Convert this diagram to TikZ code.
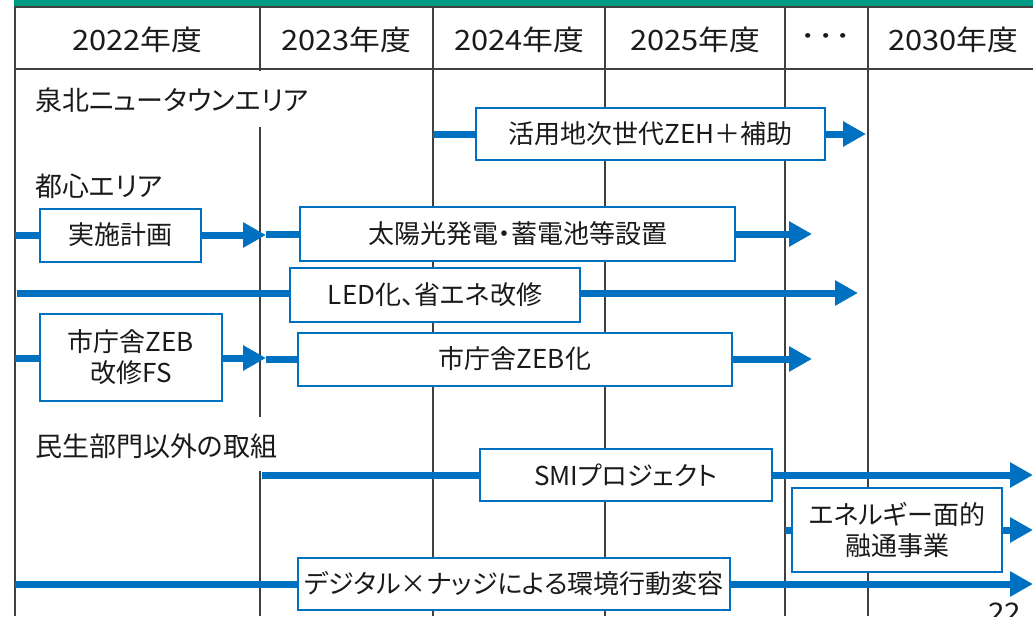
\documentclass[tikz,border=0pt]{standalone}
\usepackage{fontspec}
\setmainfont{Noto Sans CJK JP}[RawFeature=+palt]
\newfontfamily\hdrfont{Noto Sans CJK JP}[FakeStretch=1.1]
\usetikzlibrary{arrows.meta,backgrounds}
\definecolor{teal1}{HTML}{009A84}
\definecolor{blu}{HTML}{0070C0}
\definecolor{gridc}{HTML}{404040}
\definecolor{txt}{HTML}{1A1A1A}
\begin{document}
\begin{tikzpicture}[x=1pt,y=-1pt,
  gridline/.style={draw=gridc,line width=1.2pt},
  box/.style={draw=blu,line width=2pt,fill=white,inner sep=0pt,font=\fontsize{26}{31}\selectfont,text=txt,align=center},
  flow/.style={draw=blu,line width=7pt},
  flowarrow/.style={flow,-{Triangle[length=23pt,width=24pt]}},
  hdr/.style={font=\hdrfont\fontsize{28}{32}\selectfont,text=txt},
  lbl/.style={font=\fontsize{27}{31}\selectfont,text=txt,anchor=west,inner sep=0pt}]
\useasboundingbox (0,0) rectangle (1033,616);
\clip (0,0) rectangle (1033,616);

% header texts
\node[hdr] (h1) at (137,40) {2022年度};
\node[hdr] (h2) at (346,40) {2023年度};
\node[hdr] (h3) at (519,40) {2024年度};
\node[hdr] (h4) at (695,40) {2025年度};
\node[hdr] (h5) at (826,40) {･\hspace{2pt}･\hspace{2pt}･};
\node[hdr] (h6) at (953,40) {2030年度};

% section labels
\node[lbl] (l1) at (35,100) {泉北ニュータウンエリア};
\node[lbl] (l2) at (35,186) {都心エリア};
\node[lbl] (l3) at (35,446) {民生部門以外の取組};

% boxes
\node[box,minimum width=349pt,minimum height=52pt] (b1) at (650.5,134) {活用地次世代ZEH＋補助};
\node[box,minimum width=161pt,minimum height=53pt] (b2) at (120.5,235) {実施計画};
\node[box,minimum width=435pt,minimum height=54pt] (b3) at (517.5,234) {太陽光発電・蓄電池等設置};
\node[box,minimum width=290pt,minimum height=54pt] (b4) at (435,295) {LED化、省エネ改修};
\node[box,minimum width=182pt,minimum height=87pt] (b5) at (131,357) {市庁舎ZEB\\改修FS};
\node[box,minimum width=434pt,minimum height=53pt] (b6) at (515,359) {市庁舎ZEB化};
\node[box,minimum width=292pt,minimum height=52pt] (b7) at (626,475) {SMIプロジェクト};
\node[box,minimum width=210pt,minimum height=84pt] (b8) at (897,530) {エネルギー面的\\融通事業};
\node[box,minimum width=432pt,minimum height=52pt] (b9) at (514,584) {デジタル×ナッジによる環境行動変容};

\node[font=\hdrfont\fontsize{27}{31}\selectfont,text=txt,anchor=base west,inner sep=0pt] (pg) at (988,622) {22};

% free ends
\coordinate (s1) at (433,134);  \coordinate (t1) at (866,134);
\coordinate (s2) at (15,235);   \coordinate (t2) at (266,235);
\coordinate (s3) at (266,234);  \coordinate (t3) at (812,234);
\coordinate (s4) at (17,293);   \coordinate (t4) at (858,293);
\coordinate (s5) at (15,358);   \coordinate (t5) at (266,358);
\coordinate (s6) at (266,359);  \coordinate (t6) at (812,359);
\coordinate (s7) at (262,475);  \coordinate (t7) at (1033,475);
\coordinate (s8) at (785,530);  \coordinate (t8) at (1033,530);
\coordinate (s9) at (15,584);   \coordinate (t9) at (1033,584);

\begin{scope}[on background layer]
  \fill[teal1] (14,0) rectangle (1033,6.5);
  \draw[gridline] (14,7) -- (1033,7);
  \draw[gridline] (15,69) -- (1033,69);
  \draw[gridline] (15,7) -- (15,616);
  \draw[gridline] (260,7) -- (260,71);
  \draw[gridline] (260,127) -- (260,417);
  \draw[gridline] (260,471) -- (260,616);
  \draw[gridline] (433,7) -- (433,616);
  \draw[gridline] (605,7) -- (605,616);
  \draw[gridline] (785,7) -- (785,616);
  \draw[gridline] (868,7) -- (868,616);
  % flows
  \draw[flow] (s1) -- (b1.west);
  \draw[flowarrow] (b1.east) -- (t1);
  \draw[flow] (s2) -- (b2.west);
  \draw[flowarrow] (b2.east) -- (t2);
  \draw[flow] (s3) -- (b3.west);
  \draw[flowarrow] (b3.east) -- (t3);
  \draw[flow] (s4) -- (b4.west |- s4);
  \draw[flowarrow] (b4.east |- t4) -- (t4);
  \draw[flow] (s5) -- (b5.west |- s5);
  \draw[flowarrow] (b5.east |- t5) -- (t5);
  \draw[flow] (s6) -- (b6.west |- s6);
  \draw[flowarrow] (b6.east |- t6) -- (t6);
  \draw[flow] (s7) -- (b7.west);
  \draw[flowarrow] (b7.east) -- (t7);
  \draw[flow] (s8) -- (b8.west);
  \draw[flowarrow] (b8.east) -- (t8);
  \draw[flow] (s9) -- (b9.west);
  \draw[flowarrow] (b9.east) -- (t9);
\end{scope}
\end{tikzpicture}
\end{document}
